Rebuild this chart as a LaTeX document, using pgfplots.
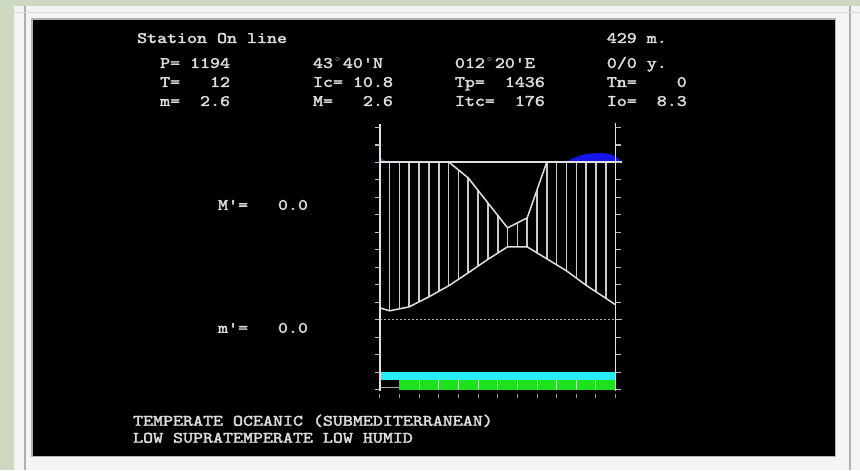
\documentclass[border=0pt]{standalone}
\usepackage{fontspec}
\usepackage{pgfplots}
\pgfplotsset{compat=1.18}
\usepackage{graphicx}
\newfontfamily\mono{lmmono10-regular.otf}[FakeBold=2]
\definecolor{bggreen}{RGB}{205,217,192}
\definecolor{panel}{RGB}{244,244,244}
\definecolor{framegray}{RGB}{175,175,175}
\definecolor{txt}{RGB}{222,222,222}
\definecolor{ln}{RGB}{225,225,225}
\definecolor{cyanbar}{RGB}{40,235,245}
\definecolor{greenbar}{RGB}{30,225,30}
\definecolor{bluearea}{RGB}{20,20,235}
\newcommand\T[1]{\scalebox{1.19}[1]{\fontsize{16}{16}\selectfont\mono #1}}
\newcommand\dg{\makebox[0.525em]{$^{\scriptscriptstyle\circ}$}}
\begin{document}
\begin{tikzpicture}
\begin{scope}[yshift=470pt,x=1pt,y=-1pt]
\fill[bggreen] (0,0) rectangle (860,470);
\fill[panel] (14,6) rectangle (860,470);
\draw[framegray,line width=2pt] (25,6) -- (25,470);
\draw[framegray,line width=2pt] (850,6) -- (850,470);
\draw[gray!30,line width=1pt] (14,12.5) -- (860,12.5);
\fill[black] (32,19) rectangle (836,457);
\draw[gray!60,line width=1.2pt] (32,19) rectangle (836,457);
\begin{scope}[every node/.style={text=txt,anchor=base west,inner sep=0pt}]
\node at (137,43) {\T{Station~On~line}};
\node at (607,43) {\T{429~m.}};
\node at (160,68) {\T{P=~1194}};
\node at (313,68) {\T{43\dg40\textquotesingle N}};
\node at (455,68) {\T{012\dg20\textquotesingle E}};
\node at (607,68) {\T{0/0~y.}};
\node at (160,87) {\T{T=~~~12}};
\node at (313,87) {\T{Ic=~10.8}};
\node at (455,87) {\T{Tp=~~1436}};
\node at (607,87) {\T{Tn=~~~~0}};
\node at (160,106) {\T{m=~~2.6}};
\node at (313,106) {\T{M=~~~2.6}};
\node at (455,106) {\T{Itc=~~176}};
\node at (607,106) {\T{Io=~~8.3}};
\node at (218,210) {\T{M\textquotesingle=~~~0.0}};
\node at (218,333) {\T{m\textquotesingle=~~~0.0}};
\node at (133,426) {\T{TEMPERATE~OCEANIC~(SUBMEDITERRANEAN)}};
\node at (133,443) {\T{LOW~SUPRATEMPERATE~LOW~HUMID}};
\end{scope}
\end{scope}
\begin{axis}[at={(0pt,0pt)},anchor=south west,scale only axis,
  width=860pt,height=470pt,xmin=-19.322,xmax=24.407,ymin=0,ymax=470,
  y dir=reverse,hide axis,clip=false]
% humid (blue) area above the baseline
\addplot[fill=bluearea,draw=none] coordinates {(9.5,162) (9.8,158.5) (10.2,155.5) (10.6,153.8) (11.2,153) (11.7,154) (12.0,156.5) (12.3,162)} -- cycle;
\addplot[fill=bluearea!70!white,draw=none,opacity=0.6] coordinates {(-0.05,162) (0,157) (0.15,159.5) (0.4,162)} -- cycle;
% hatching between the two curves
\addplot[ln!90!black,line width=1.6pt,unbounded coords=jump] coordinates {
 (0.5,162) (0.5,311) (0.5,nan)
 (1.0,162) (1.0,309) (1.0,nan)
 (1.5,162) (1.5,307) (1.5,nan)
 (2.0,162) (2.0,302) (2.0,nan)
 (2.5,162) (2.5,297) (2.5,nan)
 (3.0,162) (3.0,291.5) (3.0,nan)
 (3.5,162) (3.5,286) (3.5,nan)
 (4.0,170) (4.0,279.5) (4.0,nan)
 (4.5,178) (4.5,273) (4.5,nan)
 (5.0,190.5) (5.0,266) (5.0,nan)
 (5.5,203) (5.5,259.5) (5.5,nan)
 (6.0,215.5) (6.0,253) (6.0,nan)
 (6.5,228) (6.5,247) (6.5,nan)
 (7.0,223) (7.0,247) (7.0,nan)
 (7.5,218) (7.5,247) (7.5,nan)
 (8.0,190) (8.0,253) (8.0,nan)
 (8.5,162) (8.5,259) (8.5,nan)
 (9.0,162) (9.0,265) (9.0,nan)
 (9.5,162) (9.5,271) (9.5,nan)
 (10.0,162) (10.0,278) (10.0,nan)
 (10.5,162) (10.5,285.5) (10.5,nan)
 (11.0,162) (11.0,292) (11.0,nan)
 (11.5,162) (11.5,298.5)};
% upper curve
\addplot[ln,line width=1.5pt] coordinates {(3.5,162) (4.5,178) (5.5,203) (6.5,228) (7.5,218) (8.5,162)};
% lower curve
\addplot[ln,line width=1.5pt] coordinates {(0,308) (0.5,311) (1.5,307) (2.5,297) (3.5,286) (4.5,273) (5.5,259.5) (6.5,247) (7.5,247) (8.5,259) (9.5,271) (10.5,285.5) (11.5,298.5) (12,305)};
% baseline and zero line
\addplot[ln,line width=1.5pt] coordinates {(0,162) (12.3,162)};
\addplot[ln!80!black,line width=1pt,dash pattern=on 2pt off 2pt] coordinates {(0,320) (12.3,320)};
% bars
\addplot[fill=cyanbar,draw=none] coordinates {(0.05,372) (12,372) (12,380) (0.05,380)} -- cycle;
\addplot[fill=greenbar,draw=none] coordinates {(1,380) (12,380) (12,390) (1,390)} -- cycle;
\addplot[white!65!greenbar,line width=1pt,unbounded coords=jump] coordinates {
 (2,380) (2,390) (2,nan) (3,380) (3,390) (3,nan) (4,380) (4,390) (4,nan)
 (5,380) (5,390) (5,nan) (6,380) (6,390) (6,nan) (7,380) (7,390) (7,nan)
 (8,380) (8,390) (8,nan) (9,380) (9,390) (9,nan) (10,380) (10,390) (10,nan)
 (11,380) (11,390)};
\addplot[gray!70,line width=1pt] coordinates {(0.05,388) (1,388)};
% frame lines
\addplot[ln,line width=1.5pt] coordinates {(0,124) (0,391)};
\addplot[ln,line width=1.5pt] coordinates {(12,123) (12,391)};
\pgfplotsinvokeforeach{127.5,145,162.5,180,197.5,215,232.5,250,267.5,285,302.5,320,337.5,355,372.5,390}{
  \draw[ln!85!black,line width=1.2pt] (axis cs:-0.25,#1) -- (axis cs:0,#1);
  \draw[ln!85!black,line width=1.2pt] (axis cs:12,#1) -- (axis cs:12.25,#1);
}
\pgfplotsinvokeforeach{0,1,...,12}{
  \draw[gray!80,line width=1pt] (axis cs:#1,394) -- (axis cs:#1,398);
}
\end{axis}
\end{tikzpicture}
\end{document}
